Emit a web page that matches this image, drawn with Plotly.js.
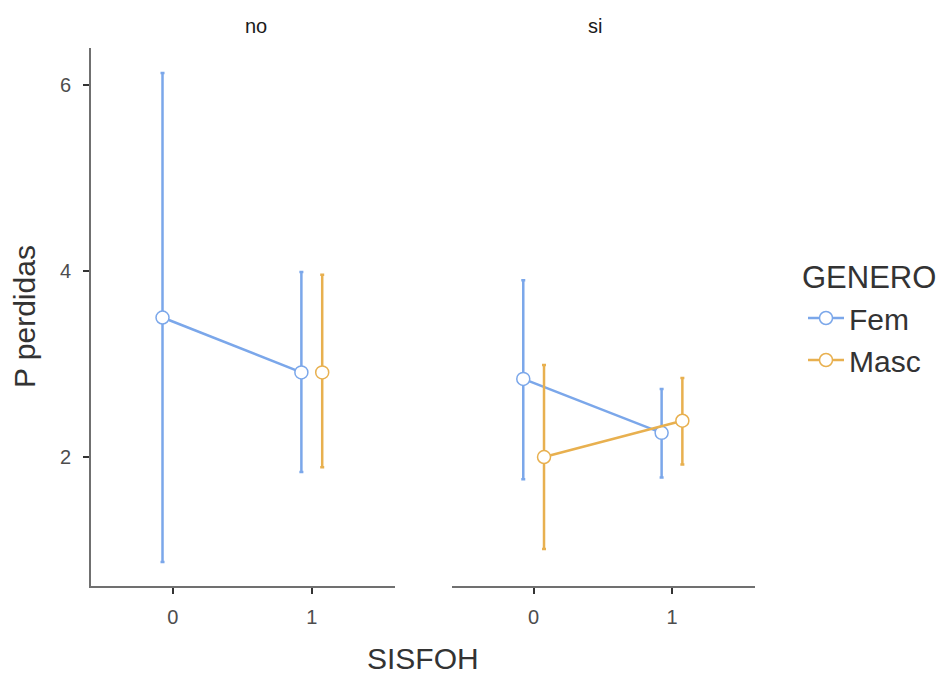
<!DOCTYPE html>
<html>
<head>
<meta charset="utf-8">
<script src="https://cdn.plot.ly/plotly-3.0.1.min.js"></script>
<style>body{margin:0;padding:0;background:#fff}#chart{width:939px;height:674px}</style>
</head>
<body>
<div id="chart"></div>
<script>
// Data
var categories = [0, 1];
var tickLabels = ["0", "1"];
var panels = ["no", "si"];
// Fem
var femNoMean  = [3.50, 2.91];
var femNoUpper = [6.13, 3.99];
var femNoLower = [0.87, 1.84];
var femSiMean  = [2.84, 2.26];
var femSiUpper = [3.90, 2.73];
var femSiLower = [1.76, 1.78];
// Masc
var mascNoMean  = [null, 2.91];
var mascNoUpper = [null, 3.96];
var mascNoLower = [null, 1.89];
var mascSiMean  = [2.00, 2.39];
var mascSiUpper = [2.99, 2.85];
var mascSiLower = [1.01, 1.92];
var yTicks = [2, 4, 6];

var colFem = "#7BA7EA";
var colMasc = "#E8B04F";
var dodge = 0.075;

function mk(name, mean, up, lo, color, off, xa, ya, show) {
  return {
    type: "scatter", mode: "lines+markers", name: name,
    x: categories.map(function(c){ return c + off; }),
    y: mean,
    xaxis: xa, yaxis: ya,
    showlegend: show, legendgroup: name,
    connectgaps: false,
    line: {color: color, width: 2.5},
    marker: {symbol: "circle", size: 13, color: "#ffffff", line: {color: color, width: 1.5}},
    error_y: {
      type: "data", symmetric: false,
      array: mean.map(function(m, i){ return m == null ? null : up[i] - m; }),
      arrayminus: mean.map(function(m, i){ return m == null ? null : m - lo[i]; }),
      color: color, thickness: 2.5, width: 2
    },
    hoverinfo: "none"
  };
}

var data = [
  mk("Fem", femNoMean, femNoUpper, femNoLower, colFem, -dodge, "x", "y", true),
  mk("Masc", mascNoMean, mascNoUpper, mascNoLower, colMasc, dodge, "x", "y", true),
  mk("Fem", femSiMean, femSiUpper, femSiLower, colFem, -dodge, "x2", "y2", false),
  mk("Masc", mascSiMean, mascSiUpper, mascSiLower, colMasc, dodge, "x2", "y2", false)
];

var axisCommon = {
  showgrid: false, zeroline: false, showline: true,
  linecolor: "#707070", linewidth: 2,
  ticks: "outside", ticklen: 6, tickwidth: 2, tickcolor: "#333333",
  tickfont: {size: 20, color: "#4d4d4d"}
};
var xr = [-0.59, 1.6];
var yr = [0.613, 6.398];
var bigFont = 30;

var layout = {
  width: 939, height: 674,
  paper_bgcolor: "#ffffff", plot_bgcolor: "#ffffff",
  font: {family: "Liberation Sans, Arial, sans-serif", color: "#333333"},
  margin: {l: 91, r: 184, t: 48, b: 88},
  xaxis: Object.assign({}, axisCommon, {domain: [0, 0.458], range: xr, tickvals: categories, ticktext: tickLabels, ticklabelstandoff: 6}),
  xaxis2: Object.assign({}, axisCommon, {domain: [0.5437, 1], range: xr, tickvals: categories, ticktext: tickLabels, anchor: "y2", ticklabelstandoff: 6}),
  yaxis: Object.assign({}, axisCommon, {range: yr, tickvals: yTicks, ticktext: yTicks.map(String), ticklabelstandoff: 8}),
  yaxis2: {range: yr, anchor: "x2", showgrid: false, zeroline: false, showline: false, showticklabels: false, ticks: ""},
  showlegend: true,
  legend: {
    xref: "container", yref: "container",
    x: 803 / 939, xanchor: "left", y: 1 - 339 / 674, yanchor: "middle",
    font: {size: 30, color: "#333333"},
    tracegroupgap: 0, itemwidth: 36
  },
  annotations: [
    {text: "no", xref: "paper", yref: "paper", x: 0.229, y: 1.0, yshift: 22, showarrow: false, font: {size: 20, color: "#1a1a1a"}, yanchor: "middle"},
    {text: "si", xref: "paper", yref: "paper", x: 0.772, y: 1.0, yshift: 22, showarrow: false, font: {size: 20, color: "#1a1a1a"}, yanchor: "middle"},
    {text: "SISFOH", xref: "paper", yref: "paper", x: 0.5, y: 0, yshift: -72, showarrow: false, font: {size: bigFont, color: "#333333"}, yanchor: "middle", borderpad: 0},
    {text: "P perdidas", xref: "paper", yref: "paper", x: 0, xshift: -67, y: 0.5, textangle: -90, showarrow: false, font: {size: bigFont, color: "#333333"}, xanchor: "center", yanchor: "middle"},
    {text: "GENERO", xref: "paper", yref: "paper", x: 1, xshift: 45, xanchor: "left", y: 1, yshift: -(277 - 48), yanchor: "middle", showarrow: false, font: {size: 31, color: "#333333"}}
  ]
};

Plotly.newPlot("chart", data, layout, {displayModeBar: false, staticPlot: true});
</script>
</body>
</html>
